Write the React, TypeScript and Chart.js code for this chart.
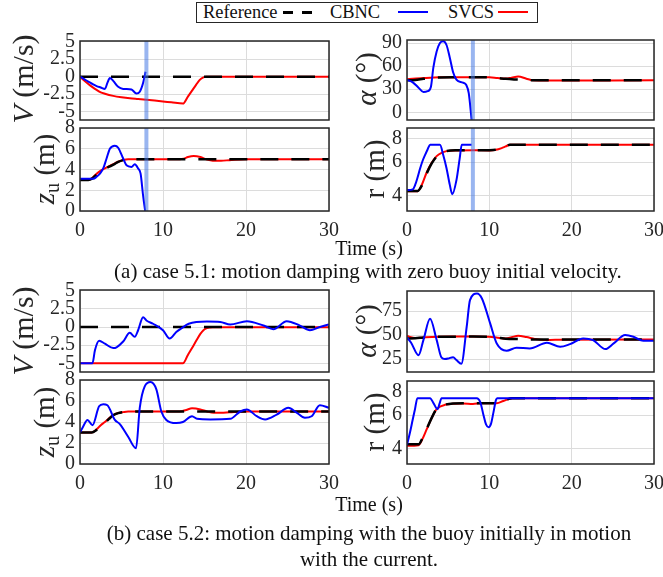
import React, { useEffect, useRef } from 'react';
import { Chart, registerables } from 'chart.js';
Chart.register(...registerables);

const SERIF = "'Liberation Serif', 'Times New Roman', serif";
const INK = '#262626';
const GRID = '#dcdcdc';
const BLUE = '#0000ff';
const RED = '#ff0000';
const BAND = 'rgba(70,120,228,0.55)';

// ---------- shared axes ----------
const X_TICKS = [0, 10, 20, 30];
const V_TICKS = [-5, -2.5, 0, 2.5, 5];
const ZU_TICKS = [0, 2, 4, 6, 8];
const R_TICKS = [4, 6, 8];
const ALPHA_A_TICKS = [0, 30, 60, 90];
const ALPHA_B_TICKS = [25, 50, 75];
const BAND_T = 8;

// ---------- (a) case 5.1 ----------
const T_VA_REF = [0, 30];
const VA_REF = [0, 0];
const T_VA_CBNC = [0, 0.5, 1, 1.5, 2, 2.5, 3.0, 3.3, 3.6, 4.0, 4.6, 5.2, 6.2, 6.8, 7.2, 7.6, 7.9];
const VA_CBNC = [0, -0.35, -0.72, -1.05, -1.35, -1.55, -1.75, -0.9, -0.2, -0.6, -1.45, -1.75, -1.85, -2.4, -2.15, -0.9, 0.7];
const T_VA_SVCS = [0, 0.5, 1, 1.5, 2, 2.5, 3, 4, 5, 6, 7, 8, 9, 10, 11, 12.4, 13, 13.5, 14, 14.4, 14.8, 15.2, 15.8, 30];
const VA_SVCS = [0, -0.55, -1.05, -1.5, -1.9, -2.25, -2.45, -2.75, -2.95, -3.1, -3.2, -3.3, -3.42, -3.55, -3.67, -3.85, -2.85, -2.0, -1.15, -0.5, -0.15, -0.03, 0, 0];

const T_AA_REF = [0, 1, 2, 3, 4, 6, 8, 10, 11, 12, 13, 14, 15, 30];
const AA_REF = [41.6, 42, 43.5, 44.8, 45.3, 45.5, 45.6, 45.4, 44.5, 43.5, 42.8, 42.3, 41.8, 41.6];
const T_AA_CBNC = [0, 0.7, 1.4, 2.0, 2.5, 2.9, 3.2, 3.6, 4.0, 4.4, 4.8, 5.2, 5.6, 6.0, 6.8, 7.2, 7.5, 7.85];
const AA_CBNC = [42, 39, 32, 26.5, 27.5, 33, 58, 79, 90, 92.5, 87.5, 71, 52, 42.5, 38.5, 35.5, 25, -10];
const T_AA_SVCS = [0, 2, 4, 6, 8, 10, 11, 12, 12.7, 13.5, 14.5, 15.3, 16, 30];
const AA_SVCS = [43, 44.5, 45.5, 45.6, 45.6, 45.5, 44.5, 43.8, 45, 46.6, 43.7, 41.6, 41.4, 41.6];

const T_ZA_REF = [0, 1.0, 1.5, 2.0, 2.5, 3.0, 3.6, 4.2, 4.6, 5.2, 5.8, 30];
const ZA_REF = [3.0, 3.0, 3.15, 3.5, 3.8, 4.05, 4.3, 4.55, 4.73, 4.9, 5.0, 5.0];
const T_ZA_CBNC = [0, 1.6, 2.0, 2.4, 2.8, 3.2, 3.6, 4.2, 4.6, 5.2, 5.6, 6.2, 6.6, 7.0, 7.3, 7.6, 7.85];
const ZA_CBNC = [3.1, 3.1, 3.3, 3.6, 4.1, 5.06, 6.0, 6.3, 6.1, 5.06, 4.4, 4.25, 4.5, 4.1, 3.6, 1.5, 0];
const T_ZA_SVCS = [0, 1.0, 1.5, 2.0, 2.5, 3.0, 3.6, 4.2, 4.6, 5.2, 5.8, 12, 12.5, 13, 13.7, 14.5, 15.3, 16, 17, 18, 20, 30];
const ZA_SVCS = [3.0, 3.0, 3.2, 3.6, 3.9, 4.1, 4.35, 4.6, 4.75, 4.92, 5.0, 5.0, 5.05, 5.2, 5.3, 5.2, 4.95, 4.85, 4.85, 4.9, 5.0, 5.0];

const T_RA_REF = [0, 1.3, 1.8, 2.4, 3.0, 3.6, 4.2, 4.8, 6, 8, 10, 10.8, 11.5, 12.0, 12.5, 30];
const RA_REF = [4.21, 4.22, 4.5, 5.23, 5.9, 6.42, 6.7, 6.86, 6.93, 6.94, 6.94, 6.97, 7.1, 7.25, 7.41, 7.41];
const T_RA_CBNC = [0, 0.7, 1.0, 1.3, 1.6, 1.9, 2.2, 2.5, 2.8, 4.0, 4.4, 4.8, 5.2, 5.5, 6.0, 6.4, 6.65, 7.85];
const RA_CBNC = [4.26, 4.3, 4.55, 5.0, 5.57, 6.1, 6.55, 7.0, 7.41, 7.41, 6.55, 5.57, 4.54, 4.05, 4.8, 6.28, 7.41, 7.41];
const T_RA_SVCS = [0, 1.3, 1.8, 2.4, 3.0, 3.6, 4.2, 4.8, 6, 8, 10, 10.8, 11.5, 12.0, 12.5, 30];
const RA_SVCS = [4.2, 4.2, 4.55, 5.3, 5.95, 6.45, 6.72, 6.86, 6.92, 6.93, 6.92, 6.97, 7.12, 7.27, 7.41, 7.41];

// ---------- (b) case 5.2 ----------
const T_VB_REF = [0, 30];
const VB_REF = [0, 0];
const T_VB_CBNC = [0, 1.5, 1.8, 2.3, 3.0, 4.0, 4.4, 5.2, 6.0, 6.6, 7.0, 7.6, 8.0, 8.8, 10.0, 10.8, 11.6, 12.2, 13.1, 15.3, 16.9, 18.1, 20.1, 22.1, 23.3, 24.9, 26.5, 27.7, 28.9, 30];
const VB_CBNC = [-5, -5, -3.2, -1.9, -2.3, -2.9, -2.8, -2.0, -0.8, -1.35, -0.45, 1.35, 0.9, 0.45, -0.45, -1.6, -0.7, -0.2, 0.45, 0.75, 0.7, 0.35, 0.8, 0.2, -0.3, 0.8, 0.2, -0.45, 0, 0.35];
const T_VB_SVCS = [0, 12.4, 13.0, 13.5, 14.0, 14.5, 14.9, 15.3, 16, 30];
const VB_SVCS = [-5, -5, -3.85, -2.9, -1.9, -0.95, -0.4, -0.15, -0.05, -0.05];

const T_AB_REF = [0, 1, 2, 3, 4, 6, 8, 10, 11, 12, 13.5, 15, 30];
const AB_REF = [46.5, 46.7, 47.5, 48.1, 48.3, 48.4, 48.5, 48.3, 47.3, 46.2, 45.8, 45.5, 45.5];
const T_AB_CBNC = [0, 0.5, 1.4, 2.0, 2.8, 3.6, 4.2, 4.6, 5.0, 5.6, 6.0, 6.6, 7.25, 7.65, 8.5, 9.1, 10.1, 10.9, 12.1, 13.3, 14.9, 17.0, 18.6, 19.8, 21.4, 22.6, 24.1, 25.1, 26.5, 27.5, 28.7, 30];
const AB_CBNC = [47.6, 42, 29, 45, 67, 45, 26.4, 25, 25.5, 27, 24, 20, 58.7, 86.5, 93.4, 88.2, 62.2, 41.3, 33.7, 36.8, 36.1, 42, 37.8, 40.6, 46.5, 44.8, 35.4, 41.3, 50, 48.3, 44, 44];
const T_AB_SVCS = [0, 1, 2, 3, 4, 6, 8, 10, 11, 12, 12.7, 13.5, 14.5, 15.5, 16.6, 18, 30];
const AB_SVCS = [49, 47, 47.5, 48, 48.3, 48.5, 48.6, 48.3, 47.3, 46.5, 47.8, 49.3, 48, 46, 44.8, 45.2, 45.5];

const T_ZB_REF = [0, 1.4, 2.0, 2.5, 3.0, 3.5, 4.0, 4.6, 5.2, 5.8, 30];
const ZB_REF = [3, 3.0, 3.25, 3.6, 3.92, 4.3, 4.65, 4.85, 4.94, 5.0, 5.0];
const T_ZB_CBNC = [0, 0.4, 0.9, 1.5, 2.3, 2.8, 3.3, 4.2, 4.8, 5.8, 6.75, 7.2, 7.8, 8.5, 9.2, 9.8, 10.4, 11.6, 12.4, 13.5, 14.1, 15.7, 18.1, 19.3, 20.1, 21.3, 22.3, 23.7, 25.1, 26.1, 27.1, 27.9, 28.9, 30];
const ZB_CBNC = [3.0, 3.6, 4.2, 3.7, 5.5, 5.7, 5.6, 4.2, 3.8, 2.6, 1.5, 5.35, 7.4, 7.8, 7.1, 5.0, 4.2, 3.9, 4.0, 4.55, 4.3, 4.24, 4.3, 5.0, 5.2, 4.55, 4.24, 4.7, 5.35, 4.9, 4.4, 4.55, 5.6, 5.35];
const T_ZB_SVCS = [0, 1.4, 2.0, 2.5, 3.0, 3.5, 4.0, 4.6, 5.2, 5.8, 12, 12.8, 13.5, 14.5, 15.3, 16.1, 17, 18, 20, 30];
const ZB_SVCS = [3, 3.0, 3.3, 3.7, 4.0, 4.35, 4.65, 4.85, 4.94, 5.0, 5.0, 5.15, 5.3, 5.2, 5.0, 4.87, 4.87, 4.92, 5.0, 5.0];

const T_RB_REF = [0, 1.4, 1.9, 2.4, 3.0, 3.6, 4.6, 6.8, 10.9, 11.7, 12.8, 30];
const RB_REF = [4.2, 4.2, 4.55, 5.07, 5.8, 6.47, 6.82, 6.94, 6.94, 7.13, 7.38, 7.38];
const T_RB_CBNC = [0, 0.36, 0.67, 0.97, 1.26, 2.8, 3.25, 3.7, 3.95, 4.2, 8.47, 8.9, 9.3, 9.6, 9.9, 10.2, 10.5, 10.8, 10.95, 30];
const RB_CBNC = [4.17, 4.85, 5.61, 6.45, 7.38, 7.38, 6.9, 6.45, 6.9, 7.38, 7.38, 7.03, 5.97, 5.35, 5.17, 5.39, 6.2, 7.2, 7.38, 7.38];
const T_RB_SVCS = [0, 1.4, 1.9, 2.4, 3.0, 3.6, 4.6, 6.8, 8, 9, 10.9, 11.7, 12.8, 30];
const RB_SVCS = [4.12, 4.15, 4.5, 5.05, 5.8, 6.45, 6.8, 6.92, 6.88, 6.93, 6.94, 7.13, 7.38, 7.38];

// ---------- panel definitions ----------
type Series = { t: number[]; y: number[] };
type PanelDef = {
  rect: [number, number, number, number];
  yMin: number; yMax: number; yTicks: number[]; log?: boolean;
  showX: boolean; band: boolean;
  ref: Series; cbnc: Series; svcs: Series;
};

const PANELS: PanelDef[] = [
  { rect: [80, 41, 249, 79], yMin: -6.2, yMax: 5.1, yTicks: V_TICKS, showX: false, band: true,
    ref: { t: T_VA_REF, y: VA_REF }, cbnc: { t: T_VA_CBNC, y: VA_CBNC }, svcs: { t: T_VA_SVCS, y: VA_SVCS } },
  { rect: [407, 40, 247, 80], yMin: -10, yMax: 94, yTicks: ALPHA_A_TICKS, showX: false, band: true,
    ref: { t: T_AA_REF, y: AA_REF }, cbnc: { t: T_AA_CBNC, y: AA_CBNC }, svcs: { t: T_AA_SVCS, y: AA_SVCS } },
  { rect: [80, 128, 249, 83], yMin: 0, yMax: 8, yTicks: ZU_TICKS, showX: true, band: true,
    ref: { t: T_ZA_REF, y: ZA_REF }, cbnc: { t: T_ZA_CBNC, y: ZA_CBNC }, svcs: { t: T_ZA_SVCS, y: ZA_SVCS } },
  { rect: [407, 128, 247, 83], yMin: 3.3, yMax: 9.1, yTicks: R_TICKS, log: true, showX: true, band: true,
    ref: { t: T_RA_REF, y: RA_REF }, cbnc: { t: T_RA_CBNC, y: RA_CBNC }, svcs: { t: T_RA_SVCS, y: RA_SVCS } },
  { rect: [80, 290, 249, 82], yMin: -6.2, yMax: 5.1, yTicks: V_TICKS, showX: false, band: false,
    ref: { t: T_VB_REF, y: VB_REF }, cbnc: { t: T_VB_CBNC, y: VB_CBNC }, svcs: { t: T_VB_SVCS, y: VB_SVCS } },
  { rect: [407, 291, 247, 81], yMin: 11.5, yMax: 96, yTicks: ALPHA_B_TICKS, showX: false, band: false,
    ref: { t: T_AB_REF, y: AB_REF }, cbnc: { t: T_AB_CBNC, y: AB_CBNC }, svcs: { t: T_AB_SVCS, y: AB_SVCS } },
  { rect: [80, 380, 249, 84], yMin: 0, yMax: 8, yTicks: ZU_TICKS, showX: true, band: false,
    ref: { t: T_ZB_REF, y: ZB_REF }, cbnc: { t: T_ZB_CBNC, y: ZB_CBNC }, svcs: { t: T_ZB_SVCS, y: ZB_SVCS } },
  { rect: [407, 381, 247, 83], yMin: 3.3, yMax: 9.1, yTicks: R_TICKS, log: true, showX: true, band: false,
    ref: { t: T_RB_REF, y: RB_REF }, cbnc: { t: T_RB_CBNC, y: RB_CBNC }, svcs: { t: T_RB_SVCS, y: RB_SVCS } },
];

const PAD_L = 52, PAD_T = 18, PAD_R = 24, PAD_B = 18, XH = 32;

const pts = (s: Series) => s.t.map((t, i) => ({ x: t, y: s.y[i] }));

const boxPlugin = {
  id: 'matlabBox',
  afterDraw(chart: any) {
    const { ctx, chartArea: a } = chart;
    ctx.save();
    ctx.strokeStyle = INK;
    ctx.lineWidth = 1.5;
    ctx.strokeRect(a.left, a.top, a.right - a.left, a.bottom - a.top);
    ctx.restore();
  },
};

function Panel({ p }: { p: PanelDef }) {
  const ref = useRef<HTMLCanvasElement>(null);
  useEffect(() => {
    const line = (s: Series, color: string, width: number, order: number, dash?: number[]) => ({
      data: pts(s), borderColor: color, borderWidth: width, borderDash: dash || [],
      pointRadius: 0, fill: false, cubicInterpolationMode: 'monotone', order,
    });
    const datasets: any[] = [
      line(p.cbnc, BLUE, 2, 1),
      line(p.ref, '#000000', 2.5, 2, [18, 13]),
      line(p.svcs, RED, 2, 3),
    ];
    if (p.band) {
      datasets.unshift({
        data: [{ x: BAND_T, y: p.yMin }, { x: BAND_T, y: p.yMax }],
        borderColor: BAND, borderWidth: 4, pointRadius: 0, fill: false, order: 0,
      });
    }
    const tickFont = { family: SERIF, size: 20 };
    const chart = new Chart(ref.current as HTMLCanvasElement, {
      type: 'line',
      data: { datasets },
      options: {
        animation: false,
        responsive: false,
        maintainAspectRatio: false,
        events: [],
        layout: { padding: { left: 0, top: PAD_T, right: PAD_R, bottom: p.showX ? 0 : PAD_B } },
        plugins: { legend: { display: false }, tooltip: { enabled: false } },
        scales: {
          x: {
            type: 'linear', min: 0, max: 30,
            afterBuildTicks: (s: any) => { s.ticks = X_TICKS.map((v) => ({ value: v })); },
            afterFit: (s: any) => { s.height = p.showX ? XH : 0; },
            grid: { color: GRID, lineWidth: 1, drawTicks: false },
            border: { display: false },
            ticks: { display: p.showX, padding: 8, font: tickFont, color: INK, maxRotation: 0, autoSkip: false, callback: (v: any) => String(v) },
          },
          y: {
            type: p.log ? 'logarithmic' : 'linear', min: p.yMin, max: p.yMax,
            afterBuildTicks: (s: any) => { s.ticks = p.yTicks.map((v) => ({ value: v })); },
            afterFit: (s: any) => { s.width = PAD_L; },
            grid: { color: GRID, lineWidth: 1, drawTicks: false },
            border: { display: false },
            ticks: { padding: 5, font: tickFont, color: INK, autoSkip: false, callback: (v: any) => String(v) },
          },
        },
      } as any,
      plugins: [boxPlugin],
    });
    return () => chart.destroy();
  }, [p]);
  const w = p.rect[2] + PAD_L + PAD_R;
  const h = p.rect[3] + PAD_T + (p.showX ? XH : PAD_B);
  return (
    <canvas ref={ref} width={w} height={h}
      style={{ position: 'absolute', left: p.rect[0] - PAD_L, top: p.rect[1] - PAD_T, width: w, height: h }} />
  );
}

const Rot = ({ x, y, size, children }: { x: number; y: number; size: number; children: any }) => (
  <div style={{ position: 'absolute', left: x, top: y, transform: 'translate(-50%,-50%) rotate(-90deg)',
    whiteSpace: 'nowrap', fontFamily: SERIF, fontSize: size, lineHeight: 1, color: INK }}>{children}</div>
);

const Center = ({ x, y, size, children }: { x: number; y: number; size: number; children: any }) => (
  <div style={{ position: 'absolute', left: x - 330, top: y, width: 660, textAlign: 'center', transform: 'translateY(-50%)',
    whiteSpace: 'nowrap', fontFamily: SERIF, fontSize: size, lineHeight: 1, color: '#111' }}>{children}</div>
);

const VLabel = () => (<span><i>V</i> (m/s)</span>);
const ZLabel = () => (<span><i>z</i><span style={{ fontSize: '0.7em', position: 'relative', top: '0.25em' }}>u</span> (m)</span>);
const ALabel = () => (<span><i>α</i> (°)</span>);
const RLabel = () => (<span>r (m)</span>);

export default function App() {
  const legText = { position: 'absolute' as const, top: 2, lineHeight: '21px', fontFamily: SERIF, fontSize: 18.4, color: '#111', whiteSpace: 'nowrap' as const };
  return (
    <div style={{ position: 'absolute', left: 0, top: 0, width: 663, height: 577, overflow: 'hidden', background: '#fff' }}>
      {PANELS.map((p, i) => <Panel key={i} p={p} />)}

      <Rot x={23} y={79} size={30}><VLabel /></Rot>
      <Rot x={44} y={169} size={29}><ZLabel /></Rot>
      <Rot x={366} y={79} size={29}><ALabel /></Rot>
      <Rot x={374} y={169} size={29}><RLabel /></Rot>
      <Rot x={23} y={331} size={30}><VLabel /></Rot>
      <Rot x={44} y={422} size={29}><ZLabel /></Rot>
      <Rot x={366} y={331} size={29}><ALabel /></Rot>
      <Rot x={374} y={422} size={29}><RLabel /></Rot>

      <Center x={369} y={248} size={20}>Time (s)</Center>
      <Center x={368} y={271} size={21}>(a) case 5.1: motion damping with zero buoy initial velocity.</Center>
      <Center x={369} y={504} size={20}>Time (s)</Center>
      <Center x={369} y={533} size={21}>(b) case 5.2: motion damping with the buoy initially in motion</Center>
      <Center x={369} y={559} size={21}>with the current.</Center>

      <div style={{ position: 'absolute', left: 196, top: 2, width: 342, height: 21, border: '1px solid #262626', boxSizing: 'border-box', background: '#fff' }} />
      <span style={{ ...legText, left: 203 }}>Reference</span>
      <div style={{ position: 'absolute', left: 283, top: 11, width: 10, height: 2.5, background: '#000' }} />
      <div style={{ position: 'absolute', left: 302, top: 11, width: 10, height: 2.5, background: '#000' }} />
      <span style={{ ...legText, left: 330 }}>CBNC</span>
      <div style={{ position: 'absolute', left: 398, top: 11, width: 30, height: 2, background: BLUE }} />
      <span style={{ ...legText, left: 448 }}>SVCS</span>
      <div style={{ position: 'absolute', left: 498, top: 11, width: 30, height: 2, background: RED }} />
    </div>
  );
}
